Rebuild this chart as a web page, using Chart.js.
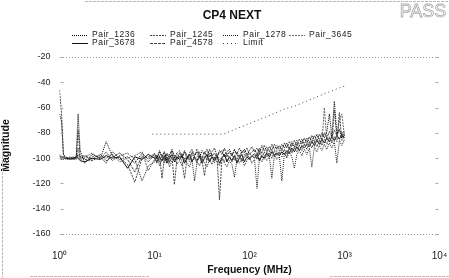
<!DOCTYPE html>
<html>
<head>
<meta charset="utf-8">
<script src="https://cdn.jsdelivr.net/npm/chart.js@4.4.0/dist/chart.umd.min.js"></script>
<style>
  html, body { margin: 0; padding: 0; background: #fff; }
  canvas { display: block; }
</style>
</head>
<body>
<canvas id="nextChart" width="449" height="278"></canvas>
<script>
const chartTitle = 'CP4 NEXT';
const verdict = 'PASS';

const freqs = [1, 1.05, 1.1, 1.2, 1.3, 1.4, 1.5, 1.57, 1.65, 1.85, 2.2, 2.7, 3.1, 3.6, 4.3, 5.2, 6.2, 7.4, 8.6,
  10, 10.6, 11.3, 12, 12.7, 13.5, 14.4, 15.3, 16.2, 17.2,
  18.3, 19.5, 20.7, 22, 23.4, 24.8, 26.4, 28, 29.8, 31.6,
  33.6, 35.7, 37.9, 40.3, 42.8, 45.4, 48.3, 51.3, 54.5, 57.9,
  61.5, 65.3, 69.4, 73.7, 78.3, 83.2, 88.4, 93.9, 99.8, 106,
  113, 120, 127, 135, 143, 152, 162, 172, 183, 194,
  206, 219, 233, 247, 263, 279, 297, 315, 335, 356,
  378, 402, 427, 453, 482, 512, 544, 578, 614, 652,
  693, 736, 782, 831, 883, 938, 1000];

const pair1236 = [-65, -71, -97, -100, -100, -100, -99, -65, -94, -104, -97, -100, -87, -98, -101, -99, -104, -96, -101,
  -96, -101, -94, -99, -95, -102, -97, -93, -100, -96,
  -94, -99, -95, -101, -96, -93, -98, -95, -100, -94,
  -97, -93, -99, -95, -92, -98, -96, -94, -99, -95,
  -93, -98, -94, -97, -92, -96, -93, -98, -94, -91,
  -95, -92, -96, -90, -94, -91, -95, -89, -93, -90,
  -94, -89, -92, -88, -93, -87, -91, -86, -90, -85,
  -89, -84, -88, -82, -87, -81, -86, -80, -84, -79,
  -65, -83, -55, -81, -78, -84, -80];

const pair1245 = [-46, -64, -98, -101, -100, -101, -100, -78, -99, -101, -102, -99, -104, -95, -100, -105, -119, -100, -99,
  -99, -104, -98, -116, -100, -97, -103, -99, -121, -101,
  -98, -103, -116, -100, -97, -102, -99, -104, -98, -101,
  -114, -99, -102, -97, -101, -98, -133, -100, -97, -102,
  -99, -103, -98, -101, -97, -102, -99, -96, -101, -98,
  -97, -101, -96, -100, -95, -99, -96, -100, -94, -98,
  -95, -99, -93, -97, -92, -96, -91, -95, -90, -94,
  -89, -93, -88, -92, -87, -91, -86, -90, -85, -89,
  -84, -88, -83, -87, -64, -86, -82];

const pair1278 = [-97, -99, -101, -100, -99, -100, -101, -92, -100, -99, -96, -101, -95, -102, -98, -96, -101, -118, -106,
  -103, -98, -106, -101, -104, -99, -107, -102, -100, -105,
  -102, -106, -100, -104, -107, -101, -118, -103, -106, -100,
  -104, -107, -101, -105, -99, -103, -106, -100, -104, -107,
  -102, -105, -115, -101, -104, -100, -106, -102, -99, -104,
  -101, -124, -100, -103, -98, -102, -99, -116, -97, -101,
  -98, -118, -96, -100, -95, -99, -108, -97, -94, -98,
  -93, -97, -92, -107, -91, -95, -90, -94, -89, -93,
  -88, -92, -87, -104, -86, -90, -85];

const pair3645 = [-99, -98, -100, -101, -100, -99, -100, -98, -101, -100, -99, -98, -100, -97, -103, -100, -98, -95, -110,
  -101, -97, -103, -99, -95, -100, -104, -98, -102, -97,
  -100, -96, -102, -98, -103, -97, -101, -99, -95, -103,
  -98, -102, -96, -100, -104, -97, -101, -99, -103, -96,
  -100, -97, -102, -95, -99, -103, -97, -100, -96, -99,
  -96, -100, -94, -98, -101, -95, -97, -93, -99, -94,
  -97, -92, -96, -99, -91, -95, -93, -89, -94, -90,
  -92, -88, -91, -86, -90, -85, -89, -88, -60, -86,
  -83, -87, -62, -84, -70, -65, -83];

const pair3678 = [-100, -101, -100, -100, -101, -100, -99, -100, -102, -103, -100, -101, -98, -100, -99, -108, -99, -101, -97,
  -100, -103, -99, -102, -98, -104, -100, -97, -103, -99,
  -101, -98, -104, -100, -97, -103, -99, -102, -98, -104,
  -100, -97, -103, -99, -102, -98, -104, -100, -97, -103,
  -99, -102, -98, -104, -100, -97, -103, -99, -101, -98,
  -100, -97, -102, -98, -100, -96, -99, -95, -98, -96,
  -98, -95, -97, -94, -96, -92, -95, -91, -94, -90,
  -92, -89, -91, -87, -90, -86, -89, -85, -88, -84,
  -87, -83, -86, -82, -85, -81, -84];

const pair4578 = [-98, -100, -99, -100, -100, -101, -100, -97, -99, -98, -101, -97, -102, -99, -96, -101, -111, -98, -103,
  -97, -100, -95, -99, -102, -96, -99, -94, -98, -101,
  -96, -100, -94, -98, -101, -95, -99, -93, -97, -100,
  -95, -99, -93, -98, -96, -100, -94, -97, -92, -99,
  -95, -98, -93, -97, -100, -94, -96, -92, -97, -95,
  -93, -97, -92, -96, -90, -95, -91, -94, -89, -93,
  -90, -94, -88, -92, -87, -91, -86, -90, -85, -89,
  -84, -88, -83, -87, -82, -86, -81, -85, -80, -84,
  -79, -83, -78, -82, -77, -81, -78];

const limitFreqs = [9.5, 53, 63, 108, 165, 240, 300, 580, 700, 1000];
const limitValues = [-81, -81, -78.7, -71.6, -66.1, -60.8, -58.8, -49.8, -47.4, -43];

const xTicks = [1, 10, 100, 1000, 10000];
const xTickLabels = ['10\u2070', '10\u00b9', '10\u00b2', '10\u00b3', '10\u2074'];

const FONT = '"Liberation Sans", Arial, sans-serif';

function series(label, values, color, dash) {
  return {
    label: label,
    data: freqs.map((f, i) => ({ x: f, y: values[i] })),
    borderColor: color,
    borderWidth: 1,
    borderDash: dash,
    pointRadius: 0,
    tension: 0,
    fill: false
  };
}

const datasets = [
  series('Pair_1236', pair1236, '#000', [1, 1]),
  series('Pair_1245', pair1245, '#444', [2, 1]),
  series('Pair_1278', pair1278, '#222', [1, 1]),
  series('Pair_3645', pair3645, '#666', [2, 1]),
  series('Pair_3678', pair3678, '#111', []),
  series('Pair_4578', pair4578, '#444', [3, 1]),
  {
    label: 'Limit',
    data: limitFreqs.map((f, i) => ({ x: f, y: limitValues[i] })),
    borderColor: '#444',
    borderWidth: 1,
    borderDash: [1, 3],
    pointRadius: 0,
    tension: 0,
    fill: false
  }
];

// title, legend and the grey PASS stamp
const decor = {
  id: 'decor',
  afterDraw(chart) {
    const c = chart.ctx;
    const area = chart.chartArea;
    c.save();

    c.fillStyle = '#111';
    c.textAlign = 'center';
    c.textBaseline = 'middle';
    c.font = 'bold 12px ' + FONT;
    c.fillText(chartTitle, 232, 16);

    c.font = '18px ' + FONT;
    c.fillStyle = '#fff';
    c.strokeStyle = '#aaa';
    c.lineWidth = 0.8;
    c.fillText(verdict, 423, 12);
    c.strokeText(verdict, 423, 12);

    const cols = [72, 150, 223, 289];
    const rows = [35, 43];
    c.font = '8.5px ' + FONT;
    c.letterSpacing = '0.5px';
    c.textAlign = 'left';
    chart.data.datasets.forEach((ds, i) => {
      const col = i < 4 ? i : i - 4;
      const y = rows[i < 4 ? 0 : 1];
      const x = cols[col];
      c.strokeStyle = ds.borderColor;
      c.lineWidth = 1;
      c.setLineDash(ds.borderDash || []);
      c.beginPath();
      c.moveTo(x, y + 0.5);
      c.lineTo(x + 16, y + 0.5);
      c.stroke();
      c.setLineDash([]);
      c.fillStyle = '#222';
      c.fillText(ds.label, x + 20, y);
    });
    c.letterSpacing = '0px';

    // small inside ticks on both sides
    const ys = chart.scales.y;
    c.strokeStyle = '#aaa';
    c.lineWidth = 1;
    ys.ticks.forEach(t => {
      const py = Math.round(ys.getPixelForValue(t.value)) + 0.5;
      c.beginPath();
      c.moveTo(area.left + 1, py); c.lineTo(area.left + 4, py);
      c.moveTo(area.right - 4, py); c.lineTo(area.right - 1, py);
      c.stroke();
    });

    // scan edges
    c.strokeStyle = '#bbb';
    c.setLineDash([3, 1]);
    c.beginPath();
    c.moveTo(2.5, 128); c.lineTo(2.5, 278);
    c.moveTo(85, 1.5); c.lineTo(449, 1.5);
    c.moveTo(30, 276.5); c.lineTo(150, 276.5);
    c.moveTo(330, 276.5); c.lineTo(449, 276.5);
    c.stroke();
    c.restore();
  }
};

Chart.defaults.font.family = FONT;
Chart.defaults.color = '#222';

const ctx = document.getElementById('nextChart').getContext('2d');
new Chart(ctx, {
  type: 'line',
  data: { datasets: datasets },
  options: {
    responsive: false,
    animation: false,
    layout: { padding: { top: 57, right: 9.5, bottom: 0, left: 0 } },
    plugins: {
      legend: { display: false },
      title: { display: false },
      tooltip: { enabled: false }
    },
    scales: {
      x: {
        type: 'logarithmic',
        min: 1,
        max: 10000,
        afterFit: s => { s.height = 44; },
        afterBuildTicks: s => { s.ticks = xTicks.map(v => ({ value: v })); },
        grid: { display: false, drawTicks: true, tickLength: 15 },
        border: { display: false },
        ticks: {
          autoSkip: false,
          maxRotation: 0,
          padding: 1,
          font: { size: 10 },
          color: '#222',
          callback: v => xTickLabels[xTicks.indexOf(v)]
        },
        title: {
          display: true,
          text: 'Frequency (MHz)',
          font: { size: 10.5, weight: 'bold' },
          color: '#111',
          padding: { top: 0, bottom: 2 }
        }
      },
      y: {
        min: -160,
        max: -20,
        afterFit: s => { s.width = 59.5; },
        ticks: { stepSize: 20, padding: 9, font: { size: 9 }, color: '#222' },
        grid: {
          drawTicks: false,
          color: c => (c.tick && (c.tick.value === -20 || c.tick.value === -160)) ? '#999' : 'rgba(0,0,0,0)'
        },
        border: { display: false, dash: [1, 2] },
        title: {
          display: true,
          text: 'Magnitude',
          font: { size: 10.5, weight: 'bold' },
          color: '#111',
          padding: { top: 0, bottom: 0 }
        }
      }
    }
  },
  plugins: [decor]
});
</script>
</body>
</html>
